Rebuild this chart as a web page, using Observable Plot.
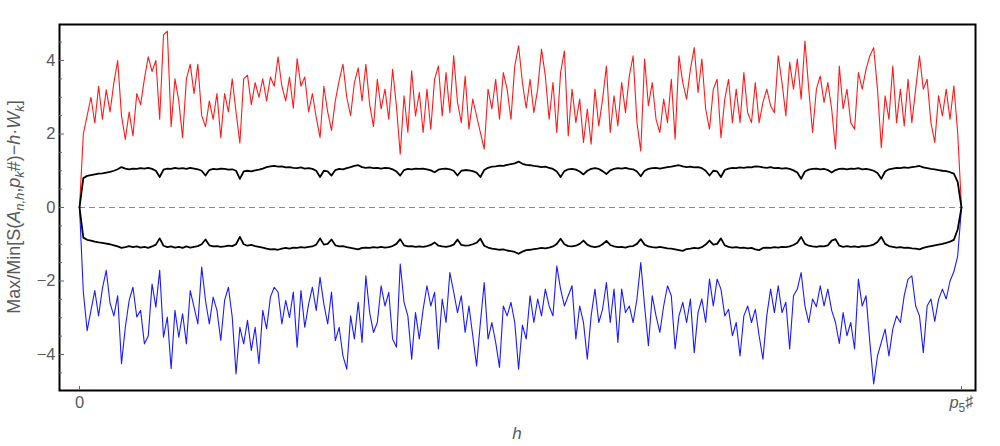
<!DOCTYPE html>
<html><head><meta charset="utf-8">
<script src="https://cdn.jsdelivr.net/npm/d3@7"></script>
<script src="https://cdn.jsdelivr.net/npm/@observablehq/plot@0.6"></script>
<style>
html,body{margin:0;padding:0;background:#fff;}
#chart{width:1000px;height:446px;}
</style></head><body><div id="chart"></div>
<script>
// h runs from 0 to p5# = 2310, values sampled every 10 steps of h
const P5_PRIMORIAL = 2310;
const H_STEP = 10;

// Max[S(A_{n,h},p_k#) - h W_k]  (red)
const maxSeries = [
  0, 2.0, 2.5, 3.0, 2.3, 3.3, 2.4, 3.2, 2.6, 3.4,
  4.0, 2.5, 1.85, 2.6, 1.95, 3.1, 2.8, 3.5, 4.1, 3.7,
  4.0, 2.4, 4.7, 4.8, 2.2, 3.5, 2.9, 1.9, 3.5, 3.9,
  3.1, 3.9, 2.5, 2.2, 2.9, 2.4, 3.1, 1.9, 3.1, 2.6,
  3.5, 2.6, 1.75, 3.5, 3.6, 2.8, 3.4, 3.0, 3.5, 2.9,
  3.55, 3.3, 4.1, 3.3, 2.9, 3.55, 2.7, 4.05, 3.3, 3.55,
  2.6, 3.1, 2.45, 1.9, 3.3, 2.6, 2.1, 2.9, 3.45, 3.9,
  3.0, 2.5, 3.4, 3.8, 2.9, 3.9, 2.8, 2.2, 3.49, 2.68,
  3.22, 2.4, 3.76, 2.77, 1.45, 3.04, 2.04, 3.72, 2.49, 3.13,
  2.04, 3.22, 2.13, 3.49, 3.85, 2.49, 3.67, 2.58, 4.13, 2.86,
  2.31, 3.58, 2.13, 2.95, 2.49, 2.04, 1.59, 3.22, 2.68, 3.49,
  2.4, 3.67, 3.22, 2.4, 3.85, 4.4, 3.4, 2.7, 3.49, 2.58,
  3.22, 4.31, 3.58, 2.4, 3.4, 2.04, 3.67, 4.26, 1.95, 3.22,
  2.31, 2.95, 1.77, 2.68, 1.72, 3.22, 2.22, 2.95, 3.85, 2.04,
  3.04, 2.22, 3.4, 2.58, 3.58, 4.13, 2.31, 1.54, 4.04, 2.77,
  3.4, 2.4, 2.04, 2.95, 2.31, 3.49, 1.86, 4.13, 3.4, 2.95,
  3.76, 4.35, 3.13, 4.04, 2.68, 2.13, 3.22, 3.49, 1.9, 2.95,
  3.49, 2.31, 3.22, 2.31, 3.67, 2.58, 2.31, 3.4, 2.31, 2.86,
  3.22, 2.77, 2.58, 4.13, 3.4, 2.49, 3.95, 3.22, 4.04, 2.95,
  4.53, 3.22, 2.04, 3.22, 3.58, 2.86, 3.4, 2.68, 1.59, 3.85,
  2.68, 3.22, 2.31, 2.13, 3.67, 3.22, 3.76, 4.13, 4.35, 3.22,
  1.63, 3.04, 2.4, 3.85, 2.31, 3.22, 2.22, 3.49, 2.31, 3.22,
  4.13, 3.22, 3.49, 2.31, 1.77, 3.04, 2.49, 3.22, 2.4, 3.31,
  2.04, 0
];

// Min[...]  (blue)
const minSeries = [
  0, -2.3, -3.35, -2.8, -2.26, -2.95, -2.2, -1.71, -2.6, -2.95,
  -2.4, -4.25, -3.26, -2.53, -2.17, -2.98, -2.8, -3.71, -3.5, -2.08,
  -2.71, -1.71, -3.53, -2.98, -4.39, -2.8, -3.53, -2.89, -3.71, -2.26,
  -2.71, -3.17, -1.62, -2.53, -3.17, -2.44, -2.8, -3.62, -2.53, -2.17,
  -2.98, -4.53, -3.26, -3.71, -3.07, -3.89, -3.26, -4.25, -2.8, -3.3,
  -2.44, -2.17, -2.3, -3.17, -2.53, -3.0, -2.3, -3.8, -2.26, -3.26,
  -2.63, -2.17, -2.8, -1.9, -2.63, -3.17, -2.3, -3.62, -3.26, -4.04,
  -4.4, -2.95, -3.58, -2.58, -3.67, -1.86, -2.86, -3.4, -3.13, -2.13,
  -2.68, -2.31, -3.58, -3.8, -1.54, -2.58, -2.95, -4.13, -2.86, -3.58,
  -2.77, -2.13, -2.68, -2.31, -3.85, -2.49, -3.13, -1.77, -2.3, -2.86,
  -2.4, -3.4, -2.68, -3.49, -4.31, -3.13, -2.04, -3.58, -3.13, -3.67,
  -4.35, -2.68, -2.95, -2.58, -3.13, -4.4, -3.2, -3.58, -2.4, -3.13,
  -2.49, -2.95, -2.22, -2.68, -2.95, -1.59, -2.22, -2.68, -2.4, -2.13,
  -3.58, -2.68, -3.13, -4.13, -2.95, -2.22, -3.13, -2.77, -2.04, -3.13,
  -2.22, -3.67, -2.22, -2.86, -2.68, -3.13, -2.49, -1.5, -2.68, -3.76,
  -2.4, -2.95, -3.4, -2.68, -2.13, -2.4, -3.85, -2.95, -2.58, -3.13,
  -2.49, -3.95, -2.86, -2.49, -3.13, -1.95, -2.68, -1.95, -2.22, -2.95,
  -2.77, -3.49, -3.13, -4.04, -2.95, -2.68, -3.13, -2.77, -3.49, -4.13,
  -2.95, -2.22, -2.86, -2.13, -2.86, -2.58, -3.85, -2.4, -2.22, -1.77,
  -2.68, -3.13, -2.49, -2.7, -2.13, -2.68, -2.22, -2.8, -3.13, -3.7,
  -2.86, -3.49, -3.13, -3.85, -1.95, -2.68, -2.4, -3.67, -4.8, -4.04,
  -3.67, -3.31, -4.04, -3.31, -2.95, -3.13, -2.4, -1.95, -1.86, -2.68,
  -2.95, -3.95, -2.68, -2.49, -3.1, -2.5, -2.22, -2.49, -2.0, -1.75,
  -1.32, 0
];

// upper black curve
const upperCurve = [
  0, 0.8, 0.86, 0.88, 0.9, 0.92, 0.93, 0.95, 0.97, 1.0,
  1.04, 1.1, 1.06, 1.04, 1.06, 1.05, 1.07, 1.06, 1.08, 1.05,
  1.0, 0.83, 1.03, 1.06, 1.05, 1.08, 1.06, 1.07, 1.05, 1.08,
  1.06, 1.04, 1.0, 0.87, 1.02, 1.05, 1.04, 1.06, 1.05, 1.03,
  1.04, 1.0, 0.78, 0.98, 1.0, 0.98, 1.01, 1.03, 1.06, 1.1,
  1.12, 1.13, 1.11, 1.12, 1.09, 1.1, 1.08, 1.07, 1.09, 1.06,
  1.07, 1.05, 1.0, 0.83, 1.0, 0.98, 0.87, 1.02, 1.05, 1.04,
  1.07, 1.1, 1.13, 1.15, 1.1, 1.08, 1.09, 1.07, 1.08, 1.06,
  1.08, 1.07, 1.04, 0.98, 0.87, 1.02, 1.05, 1.04, 1.06, 1.05,
  1.06, 1.04, 1.01, 0.96, 1.03, 1.05, 1.06, 1.04, 1.0, 0.87,
  1.0, 1.02, 1.01, 0.99, 0.95, 0.83, 1.02, 1.08, 1.11, 1.12,
  1.14, 1.13, 1.16, 1.18, 1.2, 1.25, 1.19, 1.16, 1.15, 1.13,
  1.12, 1.1, 1.11, 1.08, 1.05, 0.98, 0.83, 0.99, 1.04, 1.05,
  1.03, 0.98, 0.9, 1.0, 1.05, 1.07, 1.05, 0.99, 0.91, 1.01,
  1.05, 1.07, 1.06, 1.08, 1.05, 1.04, 0.98, 0.85, 1.0, 1.05,
  1.07, 1.08, 1.06, 1.08, 1.1, 1.11, 1.13, 1.15, 1.12, 1.1,
  1.11, 1.09, 1.1, 1.07, 1.0, 0.87, 1.0, 0.98, 0.83, 1.02,
  1.06, 1.08, 1.07, 1.09, 1.08, 1.1, 1.09, 1.12, 1.11, 1.09,
  1.08, 1.1, 1.07, 1.08, 1.06, 1.07, 1.05, 1.01, 0.95, 0.78,
  0.98, 1.03, 1.05, 1.06, 1.04, 1.05, 1.02, 0.95, 1.02, 1.05,
  1.06, 1.04, 1.06, 1.05, 1.07, 1.04, 1.05, 1.03, 1.0, 0.94,
  0.78, 0.98, 1.04, 1.06, 1.08, 1.07, 1.09, 1.08, 1.1, 1.11,
  1.13, 1.09, 1.07, 1.05, 1.04, 1.02, 1.0, 0.99, 0.96, 0.92,
  0.7, 0
];

// lower black curve
const lowerCurve = [
  0, -0.82, -0.88, -0.9, -0.93, -0.95, -0.96, -0.98, -1.0, -1.03,
  -1.06, -1.1, -1.08, -1.05, -1.08, -1.06, -1.09, -1.07, -1.1, -1.06,
  -1.01, -0.84, -1.04, -1.08, -1.06, -1.09, -1.07, -1.1, -1.06, -1.09,
  -1.07, -1.05, -1.0, -0.87, -1.03, -1.06, -1.05, -1.07, -1.06, -1.04,
  -1.05, -1.0, -0.8, -1.0, -1.04, -1.02, -1.05, -1.07, -1.09, -1.12,
  -1.14, -1.13, -1.15, -1.12, -1.1, -1.12, -1.09, -1.1, -1.08, -1.09,
  -1.07, -1.06, -1.01, -0.84, -1.01, -0.99, -0.87, -1.03, -1.06, -1.05,
  -1.08, -1.1, -1.12, -1.14, -1.1, -1.09, -1.1, -1.08, -1.09, -1.07,
  -1.09, -1.08, -1.05, -0.99, -0.86, -1.03, -1.06, -1.05, -1.07, -1.06,
  -1.07, -1.05, -1.02, -0.95, -1.04, -1.06, -1.07, -1.05, -1.01, -0.87,
  -1.02, -1.04, -1.03, -1.0, -0.96, -0.85, -1.04, -1.09, -1.12, -1.13,
  -1.15, -1.14, -1.17, -1.19, -1.21, -1.26, -1.2, -1.16, -1.15, -1.13,
  -1.12, -1.1, -1.11, -1.09, -1.06, -0.99, -0.85, -1.0, -1.05, -1.06,
  -1.04, -0.99, -0.9, -1.01, -1.06, -1.08, -1.06, -1.0, -0.91, -1.02,
  -1.06, -1.08, -1.07, -1.09, -1.06, -1.05, -0.99, -0.86, -1.01, -1.06,
  -1.08, -1.09, -1.07, -1.09, -1.11, -1.12, -1.14, -1.16, -1.18, -1.13,
  -1.12, -1.1, -1.11, -1.08, -1.01, -0.9, -1.01, -0.99, -0.84, -1.03,
  -1.07, -1.09, -1.08, -1.1, -1.09, -1.11, -1.1, -1.14, -1.16, -1.1,
  -1.09, -1.1, -1.08, -1.09, -1.07, -1.08, -1.06, -1.02, -0.96, -0.8,
  -0.99, -1.04, -1.06, -1.07, -1.05, -1.06, -1.03, -0.9, -0.86, -1.04,
  -1.07, -1.05, -1.07, -1.06, -1.08, -1.05, -1.06, -1.04, -1.01, -0.94,
  -0.8, -0.99, -1.05, -1.07, -1.09, -1.08, -1.1, -1.09, -1.11, -1.12,
  -1.14, -1.1, -1.07, -1.05, -1.03, -1.01, -0.99, -0.96, -0.93, -0.88,
  -0.6, 0
];

const yTicks = [-4, -2, 0, 2, 4];
const yMinorTicks = [-4.5, -3.5, -3, -2.5, -1.5, -1, -0.5, 0.5, 1, 1.5, 2.5, 3, 3.5, 4.5];
const xTicks = [0, P5_PRIMORIAL];

const rows = (values) => values.map((v, i) => ({h: i * H_STEP, v}));

const FONT = "'Liberation Sans', Arial, sans-serif";
const GRAY = "#5a5a5a";

const plot = Plot.plot({
  width: 1000,
  height: 446,
  marginLeft: 59,
  marginRight: 25,
  marginTop: 24,
  marginBottom: 56,
  x: {domain: [-52.4, 2346.7], label: null},
  y: {domain: [-4.98, 4.98], label: null},
  style: {fontFamily: FONT, fontSize: "16.5px", color: GRAY, background: "#fff"},
  marks: [
    Plot.ruleY([0], {x1: 0, x2: P5_PRIMORIAL, stroke: "#8c8c8c", strokeWidth: 1.1, strokeDasharray: "6,4"}),
    Plot.lineY(rows(maxSeries), {x: "h", y: "v", stroke: "#ff1a1a", strokeWidth: 1.1}),
    Plot.lineY(rows(minSeries), {x: "h", y: "v", stroke: "#1a1aff", strokeWidth: 1.1}),
    Plot.lineY(rows(upperCurve), {x: "h", y: "v", stroke: "#000", strokeWidth: 1.8}),
    Plot.lineY(rows(lowerCurve), {x: "h", y: "v", stroke: "#000", strokeWidth: 1.8}),
    Plot.frame({stroke: "#000", strokeWidth: 2}),
    Plot.axisY(yTicks, {tickSize: -5, text: null, stroke: "#666"}),
    Plot.axisY(yMinorTicks, {tickSize: -3, text: null, stroke: "#666"}),
    Plot.axisY(yTicks, {tickSize: 0, tickPadding: 4, fill: GRAY, label: null}),
    Plot.axisX(xTicks, {tickSize: -4, text: null, stroke: "#666"}),
    Plot.axisX(xTicks, {tickSize: 0, tickPadding: 6, fill: GRAY, label: null,
      tickFormat: d => d === 0 ? "0" : "P5TICK"})
  ]
});

document.getElementById("chart").appendChild(plot);

const svg = d3.select(plot);

// rich x tick label p₅♯
svg.selectAll("text").filter(function() { return this.textContent === "P5TICK"; })
  .each(function() {
    const t = d3.select(this);
    t.text(null);
    t.append("tspan").attr("font-style", "italic").text("p");
    t.append("tspan").attr("dy", "0.3em").attr("font-size", "12px").text("5");
    t.append("tspan").attr("dy", "-0.3em").text("\u266F");
  });

// y axis title
const yl = svg.append("text")
  .attr("transform", "translate(19.5,207) rotate(-90)")
  .attr("text-anchor", "middle")
  .attr("fill", GRAY)
  .attr("font-family", FONT)
  .attr("font-size", "18px");
const parts = [
  ["Max/Min[S(", null], ["A", "i"], ["n,h", "sub"], [",", "up"], ["p", "i"], ["k", "sub"],
  ["#)\u2212", "up"], ["h", "i"], ["\u00B7", null], ["W", "i"], ["k", "sub"], ["]", "up"]
];
for (const [s, kind] of parts) {
  const ts = yl.append("tspan").text(s);
  if (kind === "i") ts.attr("font-style", "italic");
  if (kind === "sub") ts.attr("font-style", "italic").attr("font-size", "13px").attr("dy", "4.5");
  if (kind === "up") ts.attr("dy", "-4.5");
}

// x axis title
svg.append("text")
  .attr("x", 517).attr("y", 439)
  .attr("text-anchor", "middle")
  .attr("fill", GRAY)
  .attr("font-family", FONT)
  .attr("font-size", "17px")
  .attr("font-style", "italic")
  .text("h");
</script>
</body></html>
